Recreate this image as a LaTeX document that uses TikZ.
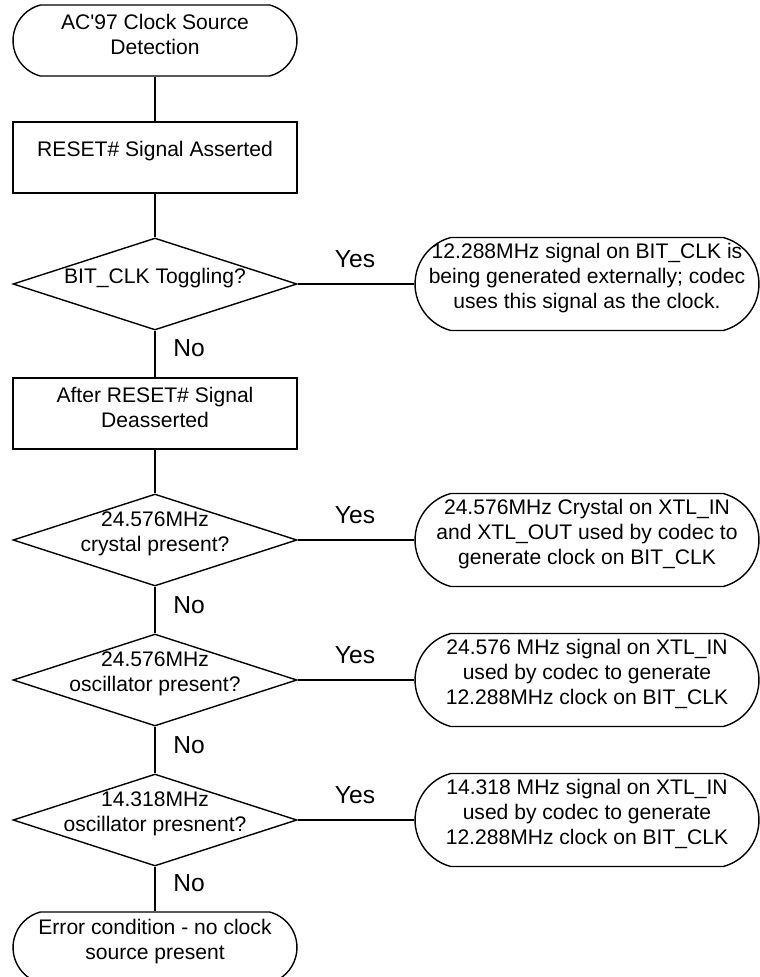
\documentclass[tikz,border=0pt]{standalone}
\usepackage{fontspec}
\setmainfont{Liberation Sans}
\usetikzlibrary{shapes.geometric,shapes.misc}

\begin{document}
\begin{tikzpicture}[x=0.02cm, y=-0.02cm, line width=0.8pt,
    every label/.style={align=center, font=\fontsize{12}{14.2}\selectfont, inner sep=0pt, yshift=0.12cm},
    term/.style={draw, rounded rectangle, rounded rectangle arc length=150, minimum width=5.68cm, minimum height=1.42cm, inner sep=0pt},
    proc/.style={draw, rectangle, minimum width=5.68cm, minimum height=1.42cm, inner sep=0pt},
    test/.style={draw, diamond, minimum width=5.68cm, minimum height=1.84cm, inner sep=0pt},
    note/.style={draw, rounded rectangle, rounded rectangle arc length=150, minimum width=6.88cm, minimum height=1.86cm, inner sep=0pt},
    answer/.style={font=\fontsize{14}{16}\selectfont, inner sep=0pt}]
        \useasboundingbox (0,0) rectangle (760,977);
        % main column
        \node[term, label={center:{AC\textquotesingle97 Clock Source\\Detection}}] (start) at (155,40.5) {};
        \node[proc, label={center:{RESET\# Signal Asserted}}] (assert) at (155,157.5) {};
        \node[test, label={center:{BIT\_CLK Toggling?}}] (toggle) at (155,284) {};
        \node[proc, label={center:{After RESET\# Signal\\Deasserted}}] (deassert) at (155,413.5) {};
        \node[test, label={center:{24.576MHz\\crystal present?}}] (xtal) at (155,540) {};
        \node[test, label={center:{24.576MHz\\oscillator present?}}] (osca) at (155,680) {};
        \node[test, label={center:{14.318MHz\\oscillator presnent?}}] (oscb) at (155,820) {};
        \node[term, label={center:{Error condition - no clock\\source present}}] (error) at (155,947.5) {};
        % clock sources
        \node[note, label={center:{12.288MHz signal on BIT\_CLK is\\being generated externally; codec\\uses this signal as the clock.}}] (ext) at (587,284) {};
        \node[note, label={center:{24.576MHz Crystal on XTL\_IN\\and XTL\_OUT used by codec to\\generate clock on BIT\_CLK}}] (xtalclk) at (587,540) {};
        \node[note, label={center:{24.576 MHz signal on XTL\_IN\\used by codec to generate\\12.288MHz clock on BIT\_CLK}}] (oscaclk) at (587,680) {};
        \node[note, label={center:{14.318 MHz signal on XTL\_IN\\used by codec to generate\\12.288MHz clock on BIT\_CLK}}] (oscbclk) at (587,820) {};
        % flow
        \draw (start) -- (assert);
        \draw (assert) -- (toggle);
        \draw (toggle) -- (deassert);
        \draw (deassert) -- (xtal);
        \draw (xtal) -- (osca);
        \draw (osca) -- (oscb);
        \draw (oscb) -- (error);
        \draw (toggle.east) -- (ext.west);
        \draw (xtal.east) -- (xtalclk.west);
        \draw (osca.east) -- (oscaclk.west);
        \draw (oscb.east) -- (oscbclk.west);
        % answers
        \node[answer] (yesa) at (355,259) {Yes};
        \node[answer] (yesb) at (355,515) {Yes};
        \node[answer] (yesc) at (355,655) {Yes};
        \node[answer] (yesd) at (355,795) {Yes};
        \node[answer] (noa) at (189,348) {No};
        \node[answer] (nob) at (189,605) {No};
        \node[answer] (noc) at (189,745) {No};
        \node[answer] (nod) at (189,883) {No};
\end{tikzpicture}
\end{document}
